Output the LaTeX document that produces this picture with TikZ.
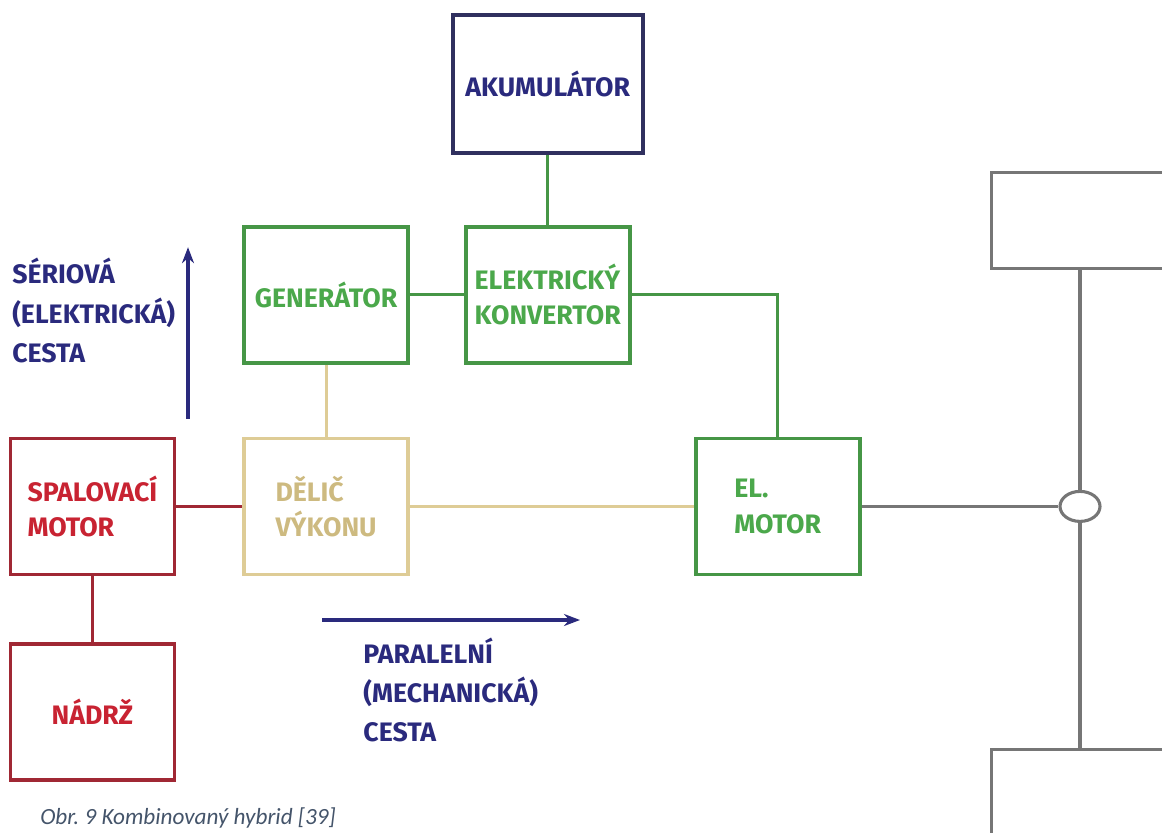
\documentclass[tikz,border=0pt]{standalone}
\usepackage{fontspec}
\setmainfont{Fira Sans}
\newfontfamily\capfont{Carlito}
\usetikzlibrary{shapes.geometric, arrows.meta, positioning}

\definecolor{iceline}{RGB}{160,40,52}
\definecolor{icetext}{RGB}{200,35,50}
\definecolor{elline}{RGB}{70,150,70}
\definecolor{eltext}{RGB}{75,168,75}
\definecolor{splitline}{RGB}{222,204,150}
\definecolor{splittext}{RGB}{205,186,128}
\definecolor{accline}{RGB}{48,48,95}
\definecolor{pathblue}{RGB}{42,42,125}
\definecolor{axleline}{RGB}{118,118,118}
\definecolor{capcolor}{RGB}{68,84,106}

\begin{document}
\begin{tikzpicture}[
  node distance=1.65cm,
  box/.style={rectangle, line width=2.6pt, minimum width=4.1cm, minimum height=3.4cm,
              align=left, inner sep=4pt, font=\fontsize{19}{25}\selectfont\bfseries},
  icebox/.style={box, draw=iceline, text=icetext},
  elbox/.style={box, draw=elline, text=eltext},
  splitbox/.style={box, draw=splitline, text=splittext},
  accbox/.style={box, draw=accline, text=pathblue, minimum width=4.75cm, minimum height=3.45cm},
  wheelbox/.style={rectangle, draw=axleline, line width=2.3pt, minimum width=6cm, minimum height=2.4cm},
  pathlabel/.style={align=left, inner sep=0pt, text=pathblue, font=\fontsize{19}{28}\selectfont\bfseries},
  iceconn/.style={draw=iceline, line width=2.4pt},
  elconn/.style={draw=elline, line width=2.4pt},
  splitconn/.style={draw=splitline, line width=2.2pt},
  axleconn/.style={draw=axleline, line width=2.2pt},
  patharrow/.style={-{Stealth[length=4mm, width=3mm]}, draw=pathblue, line width=2.2pt}
]
\useasboundingbox (0,0) rectangle (29.05,20.8);
\clip (0,0) rectangle (29.05,20.8);

% blocks
\node[icebox] (engine) at (2.31,8.14) {SPALOVACÍ\\MOTOR};
\node[icebox, below=of engine] (tank) {NÁDRŽ};
\node[splitbox, right=of engine] (splitter) {DĚLIČ\\VÝKONU};
\node[elbox, above=1.8cm of splitter] (generator) {GENERÁTOR};
\node[elbox, right=1.35cm of generator] (converter) {ELEKTRICKÝ\\KONVERTOR};
\node[accbox, above=1.75cm of converter] (battery) {AKUMULÁTOR};
\node[elbox, right=7.1cm of splitter] (emotor) {EL.\\MOTOR};

% axle
\node[ellipse, draw=axleline, line width=2.2pt, minimum width=1cm, minimum height=0.75cm, inner sep=0pt] (diff) at (27,8.14) {};
\node[wheelbox, anchor=south west] (frontwheel) at (24.75,14.05) {};
\node[wheelbox, anchor=north west] (rearwheel) at (24.75,2.1) {};

% path labels
\node[pathlabel, anchor=west] (serial) at (0.3,13.03) {SÉRIOVÁ\\(ELEKTRICKÁ)\\CESTA};
\coordinate (serialA) at (4.7,10.33);
\coordinate (serialB) at (4.7,14.62);
\node[pathlabel, anchor=west] (parallel) at (9.08,3.55) {PARALELNÍ\\(MECHANICKÁ)\\CESTA};
\coordinate (parallelA) at (8.05,5.3);
\coordinate (parallelB) at (14.5,5.3);

\node[anchor=west, inner sep=0pt, text=capcolor, font=\capfont\itshape\fontsize{16.5}{18}\selectfont] (caption) at (1,0.35) {Obr.\ 9 Kombinovaný hybrid [39]};

% connections
\draw[iceconn] (engine) -- (tank);
\draw[iceconn] (engine) -- (splitter);
\draw[splitconn] (splitter) -- (generator);
\draw[splitconn] (splitter) -- (emotor);
\draw[elconn] (generator) -- (converter);
\draw[elconn] (battery) -- (converter);
\draw[elconn] (converter.east) -| (emotor.north);
\draw[axleconn] (emotor) -- (diff);
\draw[axleconn] (diff.north) -- (diff.north |- frontwheel.south);
\draw[axleconn] (diff.south) -- (diff.south |- rearwheel.north);

\draw[patharrow] (serialA) -- (serialB);
\draw[patharrow] (parallelA) -- (parallelB);
\end{tikzpicture}
\end{document}
